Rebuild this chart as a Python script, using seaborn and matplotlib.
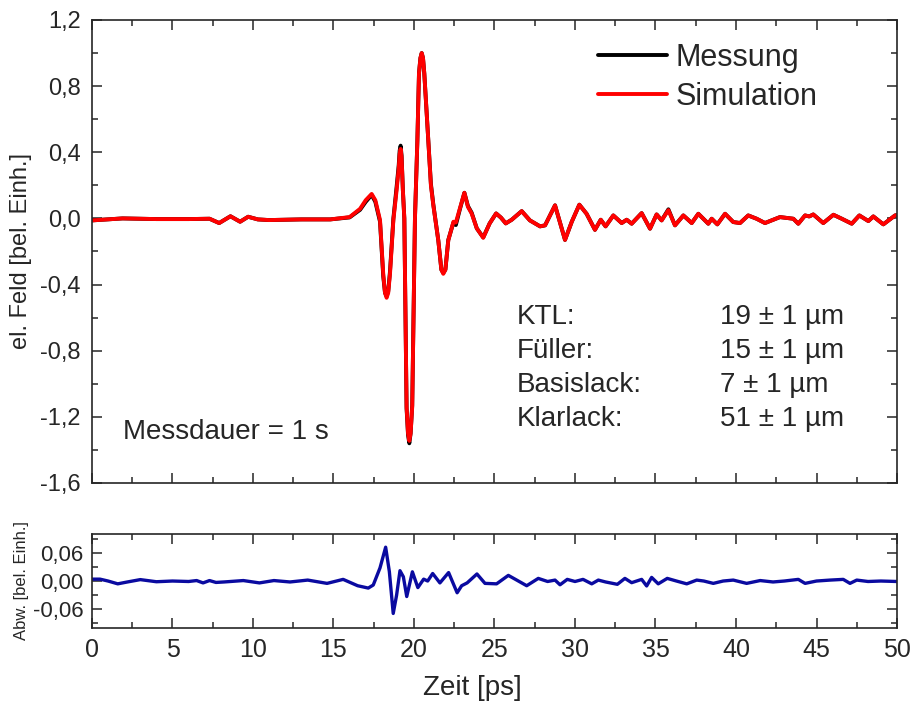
import numpy as np
import pandas as pd
import seaborn as sns
import matplotlib
matplotlib.use("Agg")
import matplotlib.pyplot as plt
from matplotlib.ticker import MultipleLocator

# Setup
sns.set_style("ticks")
plt.rcParams['font.family'] = ['Liberation Sans', 'DejaVu Sans']

# Data (Zeit in ps, Feld in bel. Einh.)
zeit = [0.0, 1.9, 4.0, 6.0, 7.3, 7.9, 8.6, 9.2, 9.7, 10.3,
        11.0, 13.0, 14.8, 16.0, 16.65, 17.0, 17.37, 17.6, 17.89, 18.09,
        18.2, 18.30, 18.4, 18.51, 18.72, 18.92, 19.05, 19.11, 19.17, 19.23,
        19.31, 19.40, 19.54, 19.63, 19.71, 19.79, 19.89, 20.06, 20.21, 20.31,
        20.4, 20.48, 20.56, 20.64, 20.89, 21.05, 21.2, 21.51, 21.7, 21.82,
        21.95, 22.13, 22.45, 22.6, 22.85, 23.13, 23.35, 23.58, 23.9, 24.3,
        24.7, 25.1, 25.4, 25.7, 26.07, 26.69, 27.2, 27.83, 28.14, 28.76,
        29.38, 29.8, 30.27, 30.72, 31.24, 31.6, 31.9, 32.38, 32.9, 33.21,
        33.52, 34.14, 34.66, 35.07, 35.38, 35.8, 36.21, 36.73, 37.25, 37.66,
        38.28, 38.49, 38.84, 39.32, 39.83, 40.25, 40.76, 41.28, 41.8, 42.21,
        42.73, 43.56, 43.87, 44.29, 44.55, 44.8, 45.42, 46.05, 46.57, 47.19,
        47.66, 48.22, 48.53, 49.15, 49.88, 50.0]

simulation = [-0.012, 0.0, -0.004, -0.004, -0.002, -0.028, 0.013, -0.020, 0.010, -0.006,
              -0.010, -0.006, -0.006, 0.008, 0.058, 0.11, 0.148, 0.11, -0.01, -0.335,
              -0.45, -0.48, -0.45, -0.335, -0.01, 0.17, 0.30, 0.39, 0.42, 0.37,
              0.17, 0.0, -1.14, -1.30, -1.345, -1.30, -1.14, 0.0, 0.47, 0.877,
              0.97, 1.0, 0.97, 0.877, 0.47, 0.2, 0.08, -0.133, -0.31, -0.335,
              -0.31, -0.133, -0.02, -0.025, 0.06, 0.155, 0.07, 0.03, -0.06, -0.117,
              -0.03, 0.03, 0.005, -0.03, -0.008, 0.044, -0.012, -0.048, -0.042, 0.079,
              -0.13, -0.02, 0.083, 0.028, -0.069, -0.008, -0.048, 0.018, -0.028, -0.008,
              -0.032, 0.032, -0.062, 0.024, -0.012, 0.050, -0.042, 0.018, -0.028, 0.028,
              -0.032, -0.002, -0.036, 0.028, -0.022, -0.028, 0.018, -0.002, -0.028, -0.012,
              0.008, -0.002, -0.032, 0.018, 0.012, 0.024, -0.028, 0.022, -0.002, -0.032,
              0.018, -0.016, 0.012, -0.036, 0.018, 0.02]

messung = [-0.012, 0.0, -0.004, -0.004, -0.002, -0.028, 0.013, -0.020, 0.010, -0.006,
           -0.010, -0.006, -0.006, 0.006, 0.052, 0.10, 0.142, 0.10, -0.02, -0.35,
           -0.45, -0.47, -0.44, -0.32, 0.0, 0.19, 0.32, 0.41, 0.44, 0.38,
           0.17, 0.0, -1.15, -1.31, -1.36, -1.30, -1.13, 0.0, 0.47, 0.877,
           0.97, 1.0, 0.97, 0.877, 0.47, 0.21, 0.085, -0.133, -0.31, -0.33,
           -0.31, -0.13, -0.025, -0.04, 0.055, 0.155, 0.075, 0.035, -0.06, -0.115,
           -0.03, 0.03, 0.005, -0.03, -0.008, 0.044, -0.012, -0.048, -0.042, 0.079,
           -0.13, -0.02, 0.083, 0.028, -0.069, -0.008, -0.048, 0.018, -0.028, -0.008,
           -0.032, 0.032, -0.062, 0.024, -0.012, 0.055, -0.042, 0.018, -0.028, 0.028,
           -0.032, -0.002, -0.036, 0.028, -0.022, -0.028, 0.018, -0.002, -0.028, -0.012,
           0.008, -0.002, -0.032, 0.018, 0.012, 0.024, -0.028, 0.022, -0.002, -0.032,
           0.018, -0.016, 0.012, -0.036, 0.018, 0.02]

# Residual (Abweichung)
zeit_abw = [0.0, 0.5, 1.0, 1.6, 2.2, 3.0, 4.0, 5.0, 6.0, 6.5,
            6.9, 7.3, 7.7, 8.2, 9.4, 10.4, 11.3, 12.3, 13.4, 14.6,
            15.6, 16.5, 17.16, 17.47, 17.89, 18.24, 18.47, 18.71, 18.92, 19.13,
            19.34, 19.55, 19.9, 20.24, 20.6, 20.85, 21.16, 21.61, 22.15, 22.68,
            22.96, 23.3, 23.91, 24.41, 25.13, 25.86, 26.38, 27.0, 27.72, 28.3,
            28.76, 29.07, 29.52, 30.0, 30.5, 31.04, 31.45, 31.9, 32.63, 33.1,
            33.52, 34.14, 34.45, 34.76, 35.17, 35.73, 36.3, 36.94, 37.56, 38.0,
            38.59, 39.2, 39.83, 40.66, 41.5, 42.3, 43.0, 43.87, 44.29, 45.0,
            45.84, 46.66, 47.08, 47.5, 48.2, 49.0, 50.0]

abweichung = [0.004, 0.004, 0.0, -0.006, -0.002, 0.003, -0.0015, 0.0, -0.001, 0.001,
              -0.004, 0.001, -0.003, -0.002, 0.001, -0.004, 0.001, -0.002, 0.002, -0.005,
              0.0035, -0.010, -0.015, -0.0085, 0.028, 0.072, 0.02, -0.069, -0.03, 0.022,
              0.009, -0.033, 0.0196, -0.014, 0.004, 0.0, 0.016, -0.004, 0.018, -0.025,
              -0.01, -0.004, 0.015, -0.005, -0.006, 0.012, 0.002, -0.010, 0.0056, -0.001,
              0.002, -0.008, 0.0035, -0.001, 0.0035, -0.006, 0.002, -0.002, -0.007, 0.0056,
              -0.0035, 0.0035, -0.0105, 0.0077, -0.006, 0.0056, 0.0, -0.006, 0.002, 0.0,
              -0.005, 0.0, 0.002, -0.005, 0.001, -0.002, 0.0, 0.0035, -0.005, 0.0,
              0.002, 0.0035, -0.005, 0.002, -0.001, 0.0, -0.001]

x_ticks = [0, 5, 10, 15, 20, 25, 30, 35, 40, 45, 50]
y_ticks = [-1.6, -1.2, -0.8, -0.4, 0.0, 0.4, 0.8, 1.2]
y_tick_labels = ["-1,6", "-1,2", "-0,8", "-0,4", "0,0", "0,4", "0,8", "1,2"]
y2_ticks = [-0.06, 0.0, 0.06]
y2_tick_labels = ["-0,06", "0,00", "0,06"]

schichten = ["KTL:", "Füller:", "Basislack:", "Klarlack:"]
dicken = ["19 ± 1 µm", "15 ± 1 µm", "7 ± 1 µm", "51 ± 1 µm"]

# Figure
fig = plt.figure(figsize=(9.17, 7.09), dpi=100)
ax = fig.add_axes([0.1003, 0.3188, 0.8779, 0.653])
ax2 = fig.add_axes([0.1003, 0.1142, 0.8779, 0.1326])

sns.lineplot(x=zeit, y=messung, color='black', lw=2.8, label='Messung', ax=ax)
sns.lineplot(x=zeit, y=simulation, color='red', lw=2.8, label='Simulation', ax=ax)
sns.lineplot(x=zeit_abw, y=abweichung, color='#0a0aa0', lw=2.4, ax=ax2)

for a in (ax, ax2):
    a.set_xlim(0, 50)
    a.set_xticks(x_ticks)
    a.xaxis.set_minor_locator(MultipleLocator(2.5))
    a.tick_params(which='both', direction='in', top=True, right=True, width=1.1)
    a.tick_params(which='major', length=7)
    a.tick_params(which='minor', length=4)
    for s in a.spines.values():
        s.set_linewidth(1.2)

ax.set_ylim(-1.6, 1.2)
ax.set_yticks(y_ticks)
ax.set_yticklabels(y_tick_labels, fontsize=17)
ax.yaxis.set_minor_locator(MultipleLocator(0.2))
ax.tick_params(axis='y', which='major', pad=8)
ax.tick_params(labelbottom=False)
ax.set_xlabel('')
ax.set_ylabel('el. Feld [bel. Einh.]', fontsize=17)
ax.yaxis.set_label_coords(-0.074, 0.5)

ax2.set_ylim(-0.1, 0.1)
ax2.set_yticks(y2_ticks)
ax2.set_yticklabels(y2_tick_labels, fontsize=16)
ax2.yaxis.set_minor_locator(MultipleLocator(0.03))
ax2.tick_params(axis='y', which='major', pad=6)
ax2.tick_params(axis='x', which='major', pad=7)
ax2.set_xticklabels([str(v) for v in x_ticks], fontsize=18)
ax2.set_xlabel('Zeit [ps]', fontsize=20)
ax2.xaxis.set_label_coords(0.473, -0.50)
ax2.set_ylabel('Abw. [bel. Einh.]', fontsize=12)
ax2.yaxis.set_label_coords(-0.078, 0.5)

leg = ax.legend(loc='upper left', bbox_to_anchor=(0.6286, 0.950), frameon=False,
                fontsize=22, handlelength=2.25, handletextpad=0.3,
                borderpad=0, borderaxespad=0, labelspacing=0.28)

for i, (name, d) in enumerate(zip(schichten, dicken)):
    yy = 0.3585 - i * 0.0734
    ax.text(0.528, yy, name, transform=ax.transAxes, fontsize=20, va='center')
    ax.text(0.780, yy, d, transform=ax.transAxes, fontsize=20, va='center')

ax.text(0.0385, 0.110, 'Messdauer = 1 s', transform=ax.transAxes, fontsize=20, va='center')

fig.savefig('out.png', dpi=100)
